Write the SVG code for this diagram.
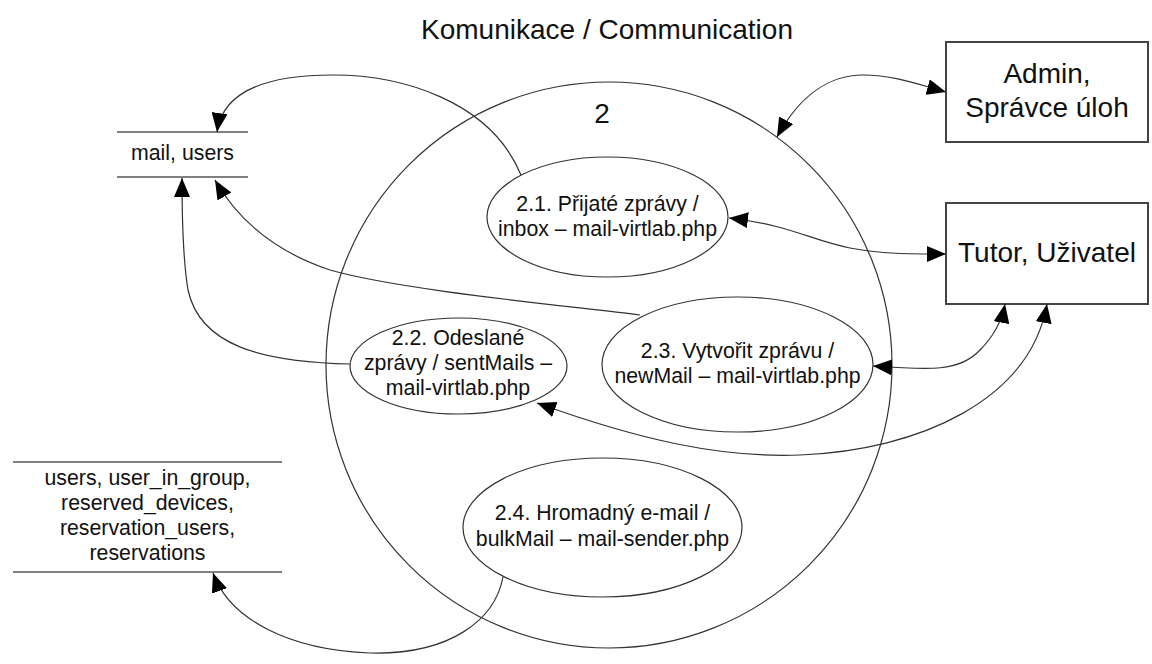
<svg xmlns="http://www.w3.org/2000/svg" width="1152" height="664" viewBox="0 0 1152 664">
  <style>
    text { font-family: "Liberation Sans", Arial, sans-serif; fill: #111; text-anchor: middle; }
    .t28 { font-size: 28px; }
    .t21 { font-size: 21.3px; }
    .proc { fill: none; stroke: #333; stroke-width: 1.2; }
    .ext { fill: #fff; stroke: #444; stroke-width: 2; }
    .store { stroke: #808080; stroke-width: 2; }
    .flow { fill: none; stroke: #333; stroke-width: 1.2; }
  </style>
  <defs>
    <marker id="arrow" markerUnits="userSpaceOnUse" markerWidth="20" markerHeight="16" viewBox="0 0 20 16" refX="19" refY="8" orient="auto-start-reverse">
      <path d="M0,0 L19,8 L0,16 Z" fill="#000"/>
    </marker>
  </defs>

  <rect width="1152" height="664" fill="#fff"/>

  <text class="t28" x="607" y="39">Komunikace / Communication</text>

  <!-- parent process 2 -->
  <g id="process-2">
    <circle class="proc" cx="609" cy="365" r="283"/>
    <text class="t28" x="602" y="123">2</text>
  </g>

  <g id="process-2-1">
    <ellipse class="proc" cx="607.5" cy="217" rx="120.5" ry="60"/>
    <text class="t21" x="607.5" y="210.5">2.1. Přijaté zprávy /</text>
    <text class="t21" x="607.5" y="235.5">inbox – mail-virtlab.php</text>
  </g>

  <g id="process-2-2">
    <ellipse class="proc" cx="458.5" cy="366" rx="108.5" ry="48"/>
    <text class="t21" x="458" y="345">2.2. Odeslané</text>
    <text class="t21" x="458" y="370">zprávy / sentMails –</text>
    <text class="t21" x="458" y="395">mail-virtlab.php</text>
  </g>

  <g id="process-2-3">
    <ellipse class="proc" cx="737.5" cy="364.5" rx="135.5" ry="67.5"/>
    <text class="t21" x="737.5" y="358">2.3. Vytvořit zprávu /</text>
    <text class="t21" x="737.5" y="383">newMail – mail-virtlab.php</text>
  </g>

  <g id="process-2-4">
    <ellipse class="proc" cx="602.5" cy="527.5" rx="139.5" ry="69.5"/>
    <text class="t21" x="602.5" y="520">2.4. Hromadný e-mail /</text>
    <text class="t21" x="602.5" y="546">bulkMail – mail-sender.php</text>
  </g>

  <!-- external entities -->
  <g id="admin">
    <rect class="ext" x="946" y="42" width="202" height="100"/>
    <text class="t28" x="1047" y="83">Admin,</text>
    <text class="t28" x="1047" y="117">Správce úloh</text>
  </g>

  <g id="tutor">
    <rect class="ext" x="946" y="203" width="202" height="101"/>
    <text class="t28" x="1047" y="262">Tutor, Uživatel</text>
  </g>

  <!-- data stores -->
  <g id="store-mail">
    <line class="store" x1="117" y1="132" x2="248" y2="132"/>
    <line class="store" x1="117" y1="177" x2="248" y2="177"/>
    <text class="t21" x="182.5" y="160">mail, users</text>
  </g>

  <g id="store-reservations">
    <line class="store" x1="13" y1="462" x2="282" y2="462"/>
    <line class="store" x1="13" y1="572" x2="282" y2="572"/>
    <text class="t21" x="147.5" y="485">users, user_in_group,</text>
    <text class="t21" x="147.5" y="510">reserved_devices,</text>
    <text class="t21" x="147.5" y="535">reservation_users,</text>
    <text class="t21" x="147.5" y="560">reservations</text>
  </g>

  <!-- data flows -->
  <g id="connectors">
    <!-- admin <-> process 2 -->
    <path class="flow" d="M777,137 C800,95 830,75 863,75 C895,75 920,85 946,92" marker-start="url(#arrow)" marker-end="url(#arrow)"/>
    <!-- 2.1 <-> tutor -->
    <path class="flow" d="M729,218 C790,225 810,240 850,248 C880,254 910,254 946,254" marker-start="url(#arrow)" marker-end="url(#arrow)"/>
    <!-- 2.3 <-> tutor -->
    <path class="flow" d="M873,366 C930,370 960,372 980,350 C995,335 1002,320 1005,304" marker-start="url(#arrow)" marker-end="url(#arrow)"/>
    <!-- 2.2 <-> tutor -->
    <path class="flow" d="M537,403 C640,440 720,458 800,455 C920,450 1030,400 1047,304" marker-start="url(#arrow)" marker-end="url(#arrow)"/>
    <!-- 2.1 -> mail, users -->
    <path class="flow" d="M521,175 C490,100 400,75 333,75 C260,75 222,95 217,132" marker-end="url(#arrow)"/>
    <!-- 2.3 -> mail, users -->
    <path class="flow" d="M640,315 C560,305 400,290 330,270 C270,250 235,215 215,180" marker-end="url(#arrow)"/>
    <!-- 2.2 -> mail, users -->
    <path class="flow" d="M350,364 C260,362 200,345 188,290 C183,260 182,220 182,178" marker-end="url(#arrow)"/>
    <!-- 2.4 -> reservations -->
    <path class="flow" d="M503,577 C495,620 450,655 370,653 C290,650 230,620 213,573" marker-end="url(#arrow)"/>
  </g>
</svg>
